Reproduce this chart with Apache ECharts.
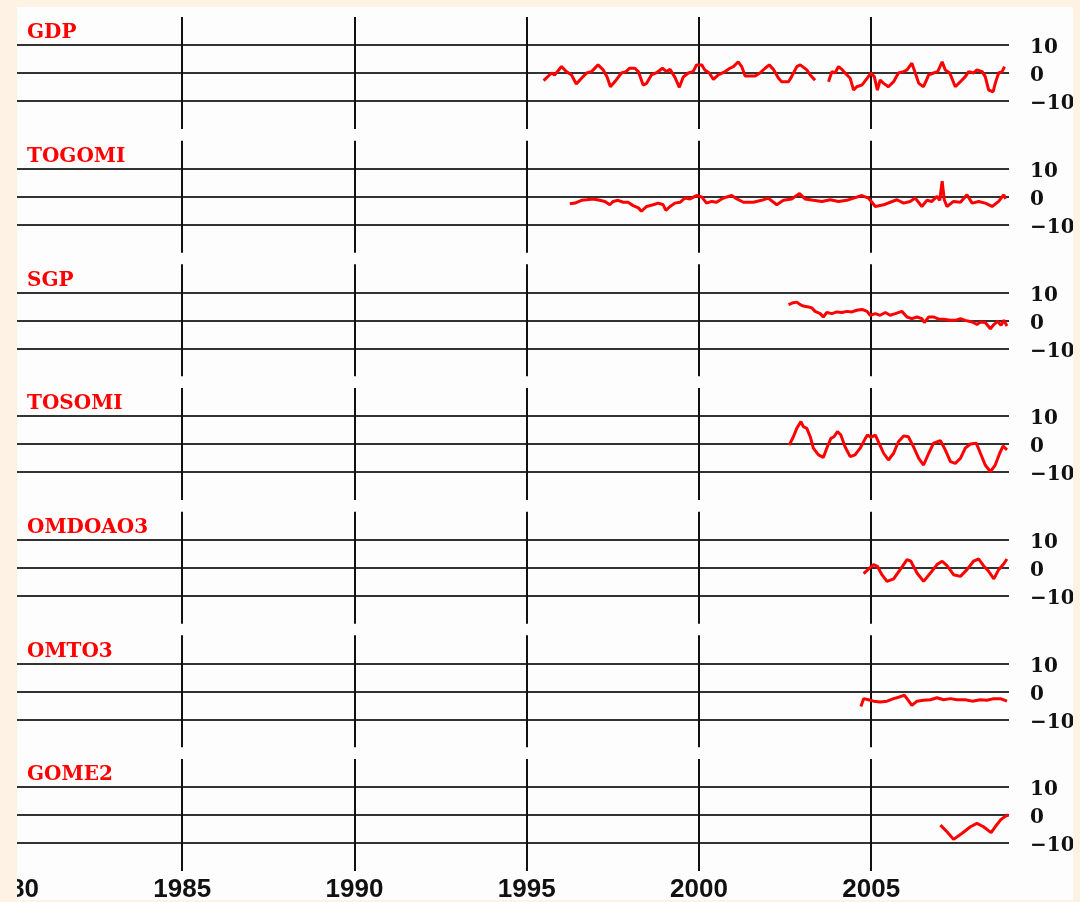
<!DOCTYPE html>
<html>
<head>
<meta charset="utf-8">
<script src="https://cdn.jsdelivr.net/npm/echarts@6/dist/echarts.min.js"></script>
<style>
  html, body { margin: 0; padding: 0; width: 1080px; height: 902px; background: #FDF2E4; overflow: hidden; }
  #frame { position: absolute; left: 17px; top: 7px; width: 1056px; height: 893px; overflow: hidden; background: #FDFDFD; }
  #chart { position: absolute; left: -17px; top: -7px; width: 1080px; height: 902px; }
</style>
</head>
<body>
<div id="frame"><div id="chart"></div></div>
<script>
// ---- data ----
const panelNames = ['GDP', 'TOGOMI', 'SGP', 'TOSOMI', 'OMDOAO3', 'OMTO3', 'GOME2'];
const xTicks = [1980, 1985, 1990, 1995, 2000, 2005];
const yTickLabels = { '-10': '\u221210', '0': '0', '10': '10' };

const gdp = [[1995.49,-2.7],[1995.72,0],[1995.81,-0.7],[1996.01,2.3],[1996.15,0.5],[1996.30,-0.7],[1996.44,-3.9],[1996.59,-1.9],[1996.74,0],[1996.88,0.5],[1997.07,2.9],[1997.22,1.1],[1997.33,-1.3],[1997.43,-4.9],[1997.61,-2.3],[1997.75,0],[1997.88,0.5],[1997.99,1.7],[1998.14,1.7],[1998.24,0.5],[1998.38,-4.3],[1998.48,-3.7],[1998.62,-0.7],[1998.77,0.1],[1998.94,1.7],[1999.06,0.5],[1999.16,1.3],[1999.30,-1.5],[1999.43,-5.1],[1999.54,-1.5],[1999.69,0],[1999.83,0.5],[1999.93,2.9],[2000.08,2.9],[2000.17,1.1],[2000.30,0],[2000.42,-2.3],[2000.56,-0.7],[2000.76,0.5],[2000.90,1.7],[2001.00,2.3],[2001.14,4.0],[2001.24,2.3],[2001.34,-1.1],[2001.48,-1.1],[2001.63,-1.1],[2001.77,0],[2001.92,1.7],[2002.04,2.9],[2002.16,1.3],[2002.31,-1.9],[2002.40,-3.1],[2002.60,-3.1],[2002.69,-1.3],[2002.84,2.3],[2002.94,2.9],[2003.13,1.1],[2003.23,-0.7],[2003.37,-2.6],[2003.56,null],[2003.76,-3.1],[2003.86,0.5],[2003.95,0],[2004.05,2.3],[2004.15,1.3],[2004.24,0],[2004.39,-1.9],[2004.49,-6.1],[2004.58,-4.9],[2004.73,-4.3],[2004.88,-1.9],[2004.99,0],[2005.09,-1.3],[2005.18,-6.1],[2005.26,-2.5],[2005.36,-3.7],[2005.50,-4.9],[2005.65,-3.1],[2005.79,0],[2005.94,0.5],[2006.04,1.1],[2006.18,3.5],[2006.28,0],[2006.38,-3.7],[2006.52,-4.9],[2006.67,-0.7],[2006.81,0],[2006.93,0.5],[2007.06,4.0],[2007.15,1.1],[2007.28,0],[2007.44,-4.9],[2007.59,-3.1],[2007.73,-1.3],[2007.83,0.5],[2007.97,0],[2008.07,1.1],[2008.22,0.5],[2008.31,-1.3],[2008.41,-6.1],[2008.54,-6.7],[2008.60,-3.7],[2008.70,0],[2008.80,0.5],[2008.87,2.3]];

const togomi = [[1996.25,-2.5],[1996.40,-2.3],[1996.59,-1.3],[1996.74,-1.1],[1996.93,-0.8],[1997.12,-1.3],[1997.27,-1.7],[1997.41,-2.9],[1997.51,-1.7],[1997.65,-1.3],[1997.80,-2.0],[1997.94,-2.0],[1998.09,-3.2],[1998.24,-4.0],[1998.33,-5.2],[1998.48,-3.5],[1998.67,-2.9],[1998.82,-2.3],[1998.96,-2.9],[1999.04,-4.9],[1999.16,-3.5],[1999.30,-2.3],[1999.45,-2.0],[1999.59,-0.5],[1999.74,-0.8],[1999.93,0.4],[2000.08,-0.1],[2000.22,-2.3],[2000.37,-1.7],[2000.51,-2.0],[2000.66,-0.8],[2000.81,-0.1],[2000.95,0.4],[2001.10,-0.8],[2001.29,-2.0],[2001.58,-2.0],[2001.82,-1.3],[2002.01,-0.5],[2002.26,-2.9],[2002.45,-1.3],[2002.69,-0.8],[2002.92,1.1],[2003.08,-0.8],[2003.32,-1.3],[2003.57,-1.7],[2003.81,-1.1],[2004.05,-1.7],[2004.29,-1.3],[2004.49,-0.5],[2004.73,0.4],[2004.92,-0.5],[2005.12,-3.5],[2005.36,-2.9],[2005.55,-2.0],[2005.75,-1.1],[2005.94,-2.3],[2006.13,-1.7],[2006.28,-0.5],[2006.47,-3.5],[2006.62,-1.3],[2006.76,-1.7],[2006.91,0.1],[2006.99,-1.3],[2007.06,5.5],[2007.12,-1.1],[2007.20,-3.5],[2007.39,-1.7],[2007.59,-2.0],[2007.78,0.7],[2007.93,-2.3],[2008.12,-1.7],[2008.31,-2.3],[2008.51,-3.5],[2008.70,-1.7],[2008.85,0.7],[2008.90,-0.8]];

const sgp = [[2002.60,5.6],[2002.74,6.3],[2002.84,6.5],[2002.94,5.6],[2003.03,5.1],[2003.18,4.8],[2003.28,4.4],[2003.37,3.2],[2003.52,2.4],[2003.61,1.2],[2003.71,2.8],[2003.86,2.4],[2004.00,3.0],[2004.15,2.8],[2004.29,3.2],[2004.44,3.0],[2004.58,3.6],[2004.73,3.9],[2004.88,3.2],[2004.97,1.8],[2005.12,2.4],[2005.26,1.8],[2005.41,2.8],[2005.55,1.8],[2005.70,2.4],[2005.89,3.2],[2006.04,1.2],[2006.18,0.6],[2006.33,1.2],[2006.47,0.6],[2006.54,-0.8],[2006.67,1.2],[2006.81,1.2],[2006.96,0.4],[2007.10,0.4],[2007.30,0],[2007.44,0],[2007.59,0.6],[2007.73,0],[2007.93,-0.6],[2008.07,-1.5],[2008.17,-0.6],[2008.31,-0.8],[2008.46,-3.0],[2008.56,-1.5],[2008.67,-0.4],[2008.77,-1.8],[2008.85,0],[2008.94,-2.0]];

const tosomi = [[2002.62,-0.4],[2002.74,2.6],[2002.84,5.6],[2002.96,8.0],[2003.03,6.2],[2003.13,5.6],[2003.23,2.6],[2003.32,-1.5],[2003.47,-3.9],[2003.61,-4.8],[2003.71,-1.5],[2003.83,2.0],[2003.92,2.6],[2004.02,4.4],[2004.12,3.2],[2004.24,-1.0],[2004.39,-4.5],[2004.53,-3.9],[2004.68,-1.5],[2004.83,2.0],[2004.89,3.2],[2004.99,2.4],[2005.12,3.2],[2005.21,0.8],[2005.36,-3.3],[2005.50,-5.7],[2005.65,-3.3],[2005.79,0.8],[2005.94,2.9],[2006.08,2.6],[2006.23,-1.0],[2006.38,-5.1],[2006.52,-7.5],[2006.67,-3.3],[2006.81,0.3],[2007.01,1.2],[2007.15,-2.1],[2007.30,-6.3],[2007.44,-6.9],[2007.59,-5.1],[2007.73,-1.5],[2007.88,0],[2008.05,0.3],[2008.17,-3.3],[2008.31,-7.5],[2008.46,-9.9],[2008.60,-7.5],[2008.73,-3.3],[2008.83,-0.7],[2008.94,-2.1]];

const omdoao3 = [[2004.78,-2.1],[2004.92,-0.5],[2005.07,1.1],[2005.18,0.5],[2005.31,-2.5],[2005.46,-4.9],[2005.65,-4.0],[2005.84,-0.7],[2006.04,2.9],[2006.15,2.3],[2006.33,-1.9],[2006.52,-4.9],[2006.72,-1.9],[2006.91,1.1],[2007.06,2.3],[2007.20,0.7],[2007.39,-2.5],[2007.59,-3.1],[2007.78,-0.7],[2007.97,2.3],[2008.12,3.1],[2008.26,0.7],[2008.41,-1.3],[2008.56,-4.0],[2008.70,-0.7],[2008.85,1.4],[2008.94,3.1]];

const omto3 = [[2004.70,-5.4],[2004.78,-2.6],[2004.92,-3.0],[2005.07,-3.5],[2005.26,-3.8],[2005.46,-3.5],[2005.65,-2.6],[2005.82,-2.0],[2005.96,-1.4],[2006.04,-2.6],[2006.18,-5.0],[2006.33,-3.5],[2006.52,-3.2],[2006.72,-3.0],[2006.91,-2.3],[2007.10,-3.0],[2007.30,-2.6],[2007.49,-3.0],[2007.73,-3.0],[2007.93,-3.5],[2008.17,-3.0],[2008.36,-3.2],[2008.56,-2.6],[2008.75,-2.6],[2008.94,-3.5]];

const gome2 = [[2007.01,-3.6],[2007.20,-6.0],[2007.39,-8.7],[2007.64,-6.5],[2007.88,-4.2],[2008.07,-3.0],[2008.26,-4.2],[2008.48,-6.3],[2008.60,-4.2],[2008.75,-1.8],[2008.90,-0.4],[2008.99,0]];

const seriesData = [gdp, togomi, sgp, tosomi, omdoao3, omto3, gome2];

// ---- layout ----
const xMin = 1980, xMax = 2009;
const gridLeft = 10, gridWidth = 999;
const firstTop = 17, step = 123.67, gridHeight = 112;

const grids = [], xAxes = [], yAxes = [], series = [], titles = [];
panelNames.forEach((name, i) => {
  const top = firstTop + i * step;
  const last = i === panelNames.length - 1;
  grids.push({ left: gridLeft, top: top, width: gridWidth, height: gridHeight, containLabel: false, outerBoundsMode: 'none' });
  titles.push({
    text: name, left: 27, top: top + 6, padding: 0,
    textStyle: { fontFamily: 'DejaVu Serif', fontWeight: 'bold', fontSize: 20, color: '#ff0000' }
  });
  xAxes.push({
    type: 'value', gridIndex: i, min: xMin, max: xMax, interval: 5,
    axisLine: { show: false }, axisTick: { show: false },
    axisLabel: {
      show: last, margin: 6, showMaxLabel: false, hideOverlap: false,
      fontFamily: 'Liberation Sans', fontWeight: 'bold', fontSize: 26, color: '#111',
      formatter: v => (xTicks.indexOf(v) >= 0 ? String(v) : '')
    },
    splitLine: { show: true, showMinLine: false, showMaxLine: false, lineStyle: { color: '#111', width: 2 } }
  });
  yAxes.push({
    type: 'value', gridIndex: i, position: 'right', min: -20, max: 20, interval: 10,
    axisLine: { show: false }, axisTick: { show: false },
    axisLabel: {
      show: true, margin: 21, align: 'left', hideOverlap: false,
      formatter: v => (yTickLabels[String(v)] ? '{t|' + yTickLabels[String(v)] + '}' : ''),
      rich: {
        t: { fontFamily: 'DejaVu Serif', fontWeight: 'bold', fontSize: 20, color: '#111', padding: [6, 0, 0, 0] }
      }
    },
    splitLine: { show: true, showMinLine: false, showMaxLine: false, lineStyle: { color: '#333', width: 2 } }
  });
  series.push({
    type: 'line', xAxisIndex: i, yAxisIndex: i, name: name,
    data: seriesData[i].map(p => [p[0], p[1] === null ? '-' : p[1]]),
    showSymbol: false, symbol: 'none', connectNulls: false, animation: false,
    lineStyle: { color: '#ff0000', width: 3 }, itemStyle: { color: '#ff0000' }
  });
});

const chart = echarts.init(document.getElementById('chart'), null, { renderer: 'canvas' });
chart.setOption({
  animation: false,
  backgroundColor: 'transparent',
  title: titles,
  grid: grids,
  xAxis: xAxes,
  yAxis: yAxes,
  series: series
});
</script>
</body>
</html>
